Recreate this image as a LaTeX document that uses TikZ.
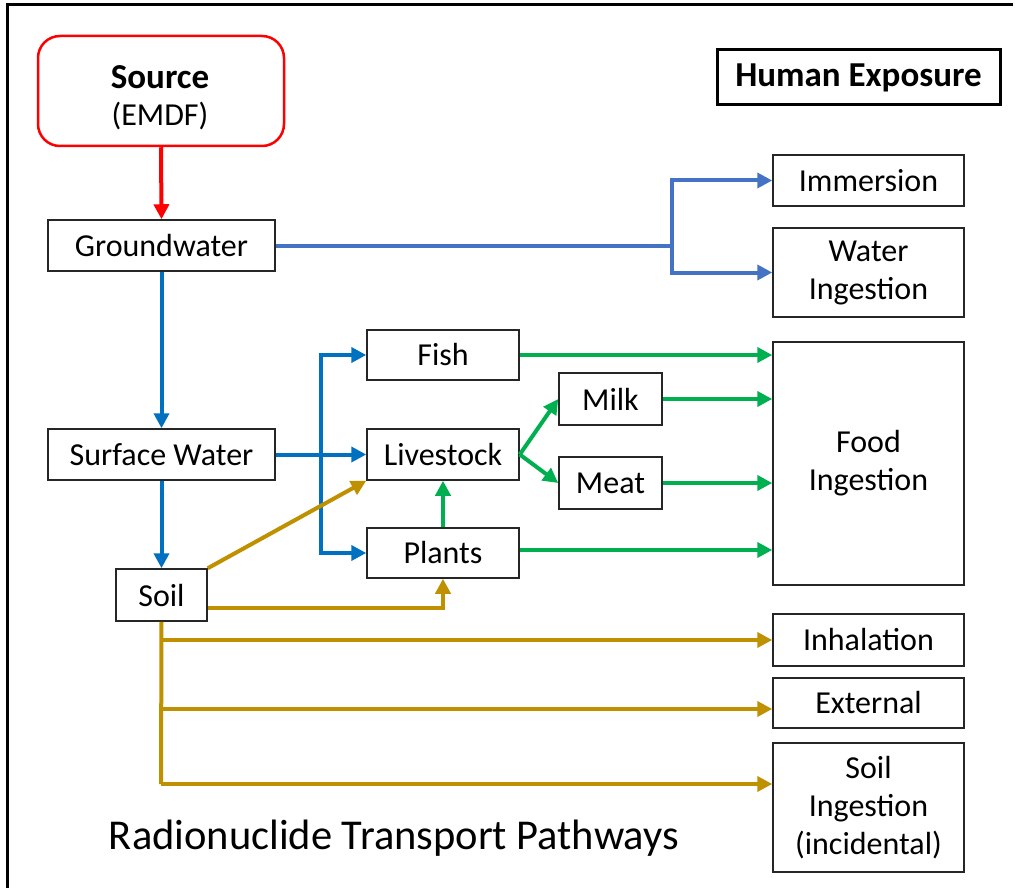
\documentclass[tikz,border=0pt]{standalone}
\usepackage{fontspec}
\setmainfont{Carlito}
\usetikzlibrary{arrows.meta,calc}
\definecolor{cred}{HTML}{FF0000}
\definecolor{cblueA}{HTML}{4472C4}
\definecolor{cblueB}{HTML}{0070C0}
\definecolor{cgreen}{HTML}{00B050}
\definecolor{cgold}{HTML}{BF9000}
\definecolor{cbox}{HTML}{262626}
\newcommand{\lblfont}{\fontsize{32}{38}\selectfont}
\newcommand{\boldfont}{\fontsize{35}{39}\selectfont\bfseries}
\begin{document}
\begin{tikzpicture}[x=1pt,y=-1pt,
  box/.style={draw=cbox, line width=1.5pt, inner sep=0pt, align=center, font=\lblfont, text=black},
  conn/.style={line width=4pt, -{Triangle[length=15pt,width=15pt]}},
  plain/.style={line width=4pt}]
\useasboundingbox (0,0) rectangle (1015,888);
% frame
\draw[line width=3pt] (7,888) -- (7,5) -- (1013,5);
% nodes
\node[box, draw=cred, line width=2.5pt, rounded corners=22pt, minimum width=246pt, minimum height=110pt] (src) at (161,91) {};
\node[font=\boldfont, inner sep=0pt] (srct) at (160,77) {Source};
\node[font=\lblfont, inner sep=0pt] (srcs) at (160,116) {(EMDF)};
\node[box, line width=3pt, draw=black, minimum width=283pt, minimum height=55pt, font=\boldfont] (he) at (858.5,77.5) {Human Exposure};
\node[box, minimum width=227pt, minimum height=51pt] (gw) at (161.5,245.5) {Groundwater};
\node[box, minimum width=227pt, minimum height=51pt] (sw) at (161.5,454.5) {Surface Water};
\node[box, minimum width=91pt, minimum height=52pt] (soil) at (161.5,595) {Soil};
\node[box, minimum width=152pt, minimum height=50pt] (fish) at (443,355) {Fish};
\node[box, minimum width=152pt, minimum height=51pt] (live) at (443,454.5) {Livestock};
\node[box, minimum width=152pt, minimum height=50pt] (plants) at (443,553) {Plants};
\node[box, minimum width=103pt, minimum height=52pt] (milk) at (610.5,399) {Milk};
\node[box, minimum width=103pt, minimum height=52pt] (meat) at (610.5,483) {Meat};
\node[box, minimum width=191pt, minimum height=51pt] (imm) at (868.5,180.5) {Immersion};
\node[box, minimum width=191pt, minimum height=89pt] (wing) at (868.5,272.5) {Water\\Ingestion};
\node[box, minimum width=191pt, minimum height=243pt] (food) at (868.5,463.5) {Food\\Ingestion};
\node[box, minimum width=191pt, minimum height=52pt] (inh) at (868.5,640) {Inhalation};
\node[box, minimum width=191pt, minimum height=50pt] (ext) at (868.5,703) {External};
\node[box, minimum width=191pt, minimum height=129pt] (sing) at (868.5,807.5) {Soil\\Ingestion\\(incidental)};
\node[font=\fontsize{42.5}{48}\selectfont, inner sep=0pt] (title) at (394,838) {Radionuclide Transport Pathways};
% coordinates
\coordinate (gsplit) at (672,245.5);
\coordinate (bsplit) at (321,454.5);
\coordinate (sext) at (161,709);
\coordinate (sbot) at (161,784);
% red
\draw[conn, draw=cred] (src.south) -- (gw.north);
% blue
\draw[plain, draw=cblueA] (gw.east) -- (gsplit);
\draw[conn, draw=cblueA] (gsplit) |- (imm.west);
\draw[conn, draw=cblueA] (gsplit) |- (wing.west);
\draw[conn, draw=cblueB] (gw.south) -- (sw.north);
\draw[conn, draw=cblueB] (sw.south) -- (soil.north);
\draw[conn, draw=cblueB] (sw.east) -- (live.west);
\draw[conn, draw=cblueB] (bsplit) |- (fish.west);
\draw[conn, draw=cblueB] (bsplit) |- (plants.west);
% green
\draw[conn, draw=cgreen] (fish.east) -- (fish.east -| food.west);
\draw[conn, draw=cgreen] (live.east) -- (milk.west);
\draw[conn, draw=cgreen] (live.east) -- (meat.west);
\draw[conn, draw=cgreen] (milk.east) -- (milk.east -| food.west);
\draw[conn, draw=cgreen] (meat.east) -- (meat.east -| food.west);
\draw[conn, draw=cgreen] ([yshift=3pt]plants.east) -- ([yshift=3pt]plants.east -| food.west);
\draw[conn, draw=cgreen] (plants.north) -- (live.south);
% gold
\draw[conn, draw=cgold] (soil.north east) -- (live.south west);
\draw[conn, draw=cgold] ([yshift=-13pt]soil.east) -| (plants.south);
\draw[plain, draw=cgold] (soil.south) -- (sbot);
\draw[conn, draw=cgold] (soil.south |- inh.west) -- (inh.west);
\draw[conn, draw=cgold] (sext) -- (sext -| ext.west);
\draw[conn, draw=cgold] (sbot) -- (sbot -| sing.west);
\end{tikzpicture}
\end{document}
